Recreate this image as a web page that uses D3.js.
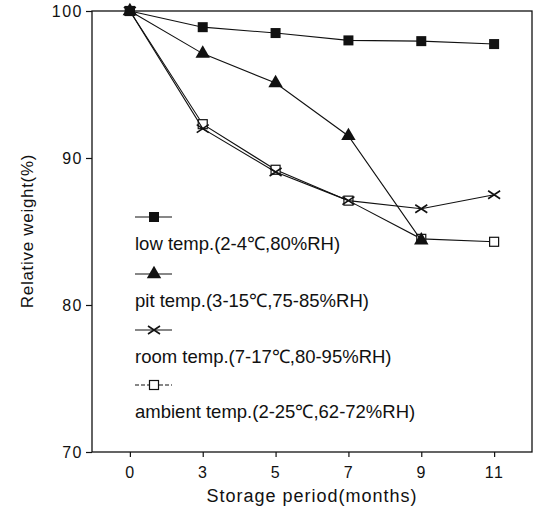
<!DOCTYPE html>
<html><head><meta charset="utf-8">
<script src="https://cdn.jsdelivr.net/npm/d3@7/dist/d3.min.js"></script>
<style>body{margin:0;background:#fff}svg{display:block}text{font-family:"Liberation Sans",Arial,sans-serif;fill:#111}</style>
</head><body><svg id="c" width="539" height="509"></svg>
<script>
const months = ["0","3","5","7","9","11"];
const yTicks = [70,80,90,100];
const lowTemp = [100, 98.9, 98.5, 98.0, 97.95, 97.75];
const pitTemp = [100, 97.1, 95.1, 91.5, 84.4, null];
const roomTemp = [100, 92.0, 89.05, 87.1, 86.55, 87.5];
const ambientTemp = [100, 92.3, 89.2, 87.1, 84.5, 84.3];
const seriesNames = ["low temp.(2-4℃,80%RH)","pit temp.(3-15℃,75-85%RH)","room temp.(7-17℃,80-95%RH)","ambient temp.(2-25℃,62-72%RH)"];
const seriesMarkers = ["square","triangle","cross","opensquare"];
const seriesData = [lowTemp, pitTemp, roomTemp, ambientTemp];

const svg = d3.select("#c");
const m = {l:92, r:532, t:11, b:452};
const x = d3.scalePoint().domain(months).range([m.l, m.r]).padding(0.52);
const y = d3.scaleLinear().domain([70,100]).range([m.b, m.t]);

svg.append("rect").attr("x",m.l).attr("y",m.t).attr("width",m.r-m.l).attr("height",m.b-m.t)
  .attr("fill","none").attr("stroke","#111").attr("stroke-width",1.3);

const yAxis = svg.append("g").attr("transform",`translate(${m.l},0)`)
  .call(d3.axisLeft(y).tickValues(yTicks).tickSize(6).tickPadding(3));
const xAxis = svg.append("g").attr("transform",`translate(0,${m.b})`)
  .call(d3.axisBottom(x).tickSize(5).tickPadding(10));
[yAxis,xAxis].forEach(a=>{
  a.select(".domain").remove();
  a.selectAll("line").attr("stroke","#111").attr("stroke-width",1.2);
  a.selectAll("text").style("font-size","16px").style("letter-spacing","1.5px").attr("fill","#111");
});

function drawMarker(g, type, cx, cy){
  if(type==="square") g.append("rect").attr("x",cx-5).attr("y",cy-5).attr("width",10).attr("height",10).attr("fill","#111");
  else if(type==="opensquare") g.append("rect").attr("x",cx-4.5).attr("y",cy-4.5).attr("width",9).attr("height",9).attr("fill","#fff").attr("stroke","#111").attr("stroke-width",1.2);
  else if(type==="triangle") g.append("path").attr("d",d3.symbol(d3.symbolTriangle,90)()).attr("transform",`translate(${cx},${cy})`).attr("fill","#111");
  else if(type==="cross") g.append("path").attr("d",`M${cx-6},${cy-4}L${cx+6},${cy+4}M${cx-6},${cy+4}L${cx+6},${cy-4}`).attr("stroke","#111").attr("stroke-width",1.6).attr("fill","none");
}

const line = d3.line().defined(d=>d.v!=null).x(d=>x(d.m)).y(d=>y(d.v));
[3,2,1,0].forEach(i=>{
  const pts = months.map((mm,j)=>({m:mm, v:seriesData[i][j]}));
  const g = svg.append("g");
  g.append("path").attr("d",line(pts)).attr("fill","none").attr("stroke","#111").attr("stroke-width",1.1);
  pts.filter(p=>p.v!=null).forEach(p=>drawMarker(g, seriesMarkers[i], x(p.m), y(p.v)));
});

const legY = [217, 274, 330, 385];
seriesNames.forEach((name,i)=>{
  const g = svg.append("g");
  g.append("line").attr("x1",135).attr("x2",172).attr("y1",legY[i]).attr("y2",legY[i])
    .attr("stroke","#111").attr("stroke-width",1.1).attr("stroke-dasharray", i===3?"4,2":null);
  drawMarker(g, seriesMarkers[i], 154, legY[i]);
  g.append("text").attr("x",135).attr("y",legY[i]+33).style("font-size","18.5px").text(name);
});

svg.append("text").attr("x",312).attr("y",502).attr("text-anchor","middle").style("font-size","18px").style("letter-spacing","1px").text("Storage period(months)");
svg.append("text").attr("transform","translate(33,231) rotate(-90)").attr("text-anchor","middle").style("font-size","17px").style("letter-spacing","0.7px").text("Relative weight(%)");
</script></body></html>
